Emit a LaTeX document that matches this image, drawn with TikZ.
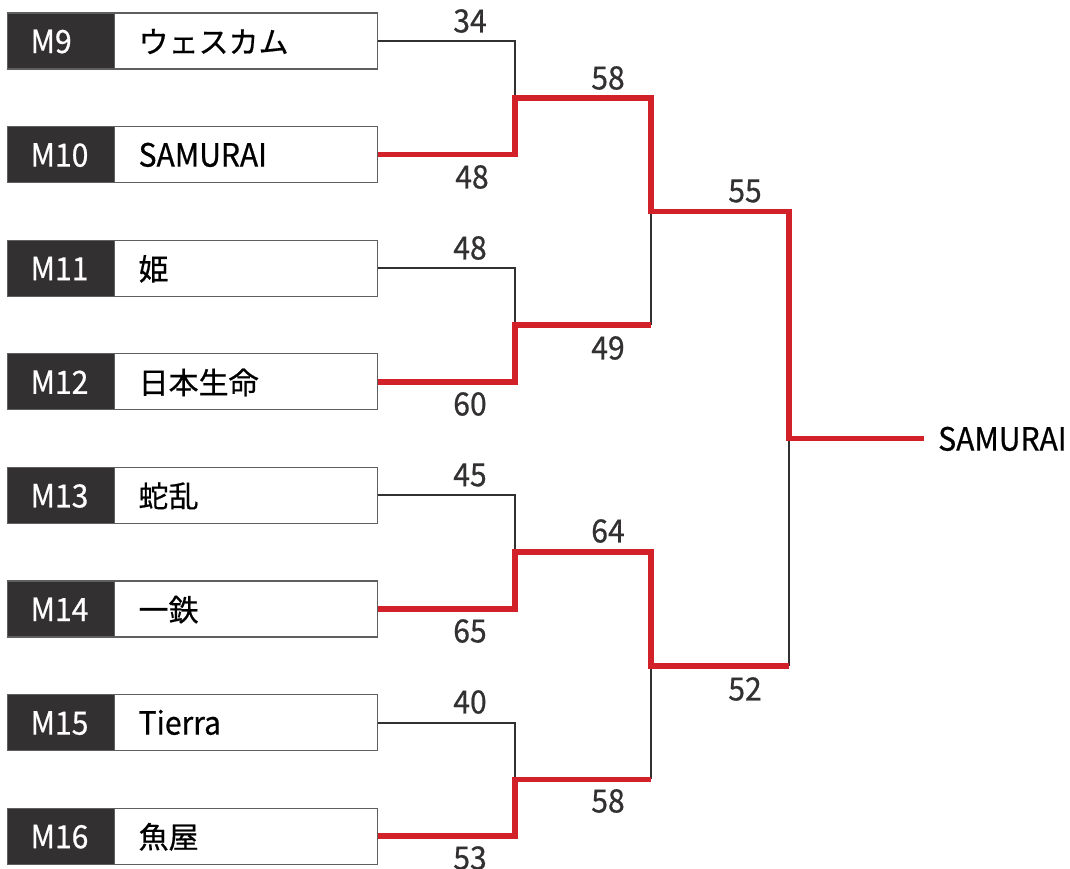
\documentclass[tikz,border=0pt]{standalone}
\usepackage{fontspec}
\setmainfont{Noto Sans CJK JP}[FakeStretch=0.94, FakeBold=0.6]
\newfontfamily\jpf{Noto Sans CJK JP}[FakeBold=0.6]
\definecolor{bred}{RGB}{211,33,41}
\definecolor{bdark}{RGB}{50,48,49}
\definecolor{bgray}{RGB}{95,95,95}
\newcommand\jpsz{\jpf\fontsize{30}{36}\selectfont}
\begin{document}
\begin{tikzpicture}[x=1pt,y=-1pt,
  lab/.style={fill=bdark, draw=bgray, line width=1.2pt, text=white, minimum height=56pt,
    text width=61pt, inner xsep=23pt, inner ysep=0pt, align=left, anchor=west,
    font=\fontsize{32}{38}\selectfont, text height=24pt, text depth=0pt},
  team/.style={draw=bgray, line width=1.2pt, fill=white, minimum height=56pt,
    text width=215pt, inner xsep=24pt, inner ysep=0pt, align=left, anchor=west,
    text=black, font=\fontsize{32}{38}\selectfont, text height=24pt, text depth=0pt},
  score/.style={inner sep=0pt, text=bdark, font=\fontsize{32}{38}\selectfont},
  loser/.style={line width=2pt, draw=bdark},
  winner/.style={line width=5.5pt, draw=bred, line join=miter, line cap=butt},
]
\useasboundingbox (0,0) rectangle (1070,868);

% boxes
\foreach \i/\m/\t [count=\k from 0] in {9/M9/{\jpsz ウェスカム},10/M10/SAMURAI,11/M11/{\jpsz 姫},12/M12/{\jpsz 日本生命},13/M13/{\jpsz 蛇乱},14/M14/{\jpsz 一鉄},15/M15/Tierra,16/M16/{\jpsz 魚屋}}{
  \node[lab] (m\i) at (7,{41+113.6*\k}) {\m};
  \node[team] (t\i) at (114,{41+113.6*\k}) {\t};
}

% junctions
\coordinate (j1) at (515,97.8);
\coordinate (j2) at (515,325);
\coordinate (j3) at (515,552.2);
\coordinate (j4) at (515,779.4);
\coordinate (j2e) at (651,325);
\coordinate (j4e) at (651,779.4);
\coordinate (k1) at (651,211.4);
\coordinate (k2) at (651,665.8);
\coordinate (k2e) at (789,665.8);
\coordinate (f) at (789,438.6);
\coordinate (fe) at (924,438.6);

\node[score, text=black, anchor=west, text height=24pt, text depth=0pt] (champ) at (938,438.6) {SAMURAI};

% losing lines
\draw[loser] (t9.east) -| (j1);
\draw[loser] (t11.east) -| (j2);
\draw[loser] (t13.east) -| (j3);
\draw[loser] (t15.east) -| (j4);
\draw[loser] (j2e) -- (k1);
\draw[loser] (j4e) -- (k2);
\draw[loser] (k2e) -- (f);

% winning lines
\draw[winner] (t10.east) -| (j1) -| (k1) -| (f) -- (fe);
\draw[winner] (t12.east) -| (j2) -- (j2e);
\draw[winner] (t14.east) -| (j3) -| (k2) -- (k2e);
\draw[winner] (t16.east) -| (j4) -- (j4e);

% scores
\node[score] (s1) at (470,21) {34};
\node[score] (s2) at (472,177) {48};
\node[score] (s3) at (470,248) {48};
\node[score] (s4) at (470,404) {60};
\node[score] (s5) at (470,475) {45};
\node[score] (s6) at (470,631) {65};
\node[score] (s7) at (470,702) {40};
\node[score] (s8) at (470,858) {53};
\node[score] (s9) at (608,78) {58};
\node[score] (s10) at (608,348) {49};
\node[score] (s11) at (608,531) {64};
\node[score] (s12) at (608,801) {58};
\node[score] (s13) at (745,191) {55};
\node[score] (s14) at (745,689) {52};
\end{tikzpicture}
\end{document}
